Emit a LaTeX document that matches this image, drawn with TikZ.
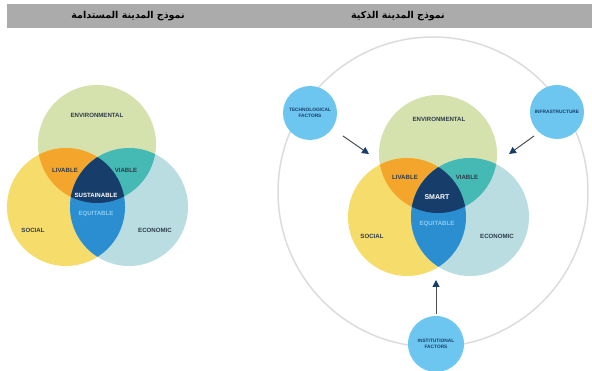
\documentclass[tikz,border=0pt]{standalone}
\usepackage{fontspec}
\usetikzlibrary{arrows.meta}
\TeXXeTstate=1
\newfontfamily\arabicfont[Script=Arabic]{DejaVu Sans}
\newfontfamily\labelfont{Liberation Sans}
\definecolor{envc}{HTML}{D5E2AE}
\definecolor{socc}{HTML}{F6DC6B}
\definecolor{ecoc}{HTML}{BADDE1}
\definecolor{livc}{HTML}{F4A52B}
\definecolor{viac}{HTML}{45B9B3}
\definecolor{equc}{HTML}{2B8ED0}
\definecolor{corec}{HTML}{173E6A}
\definecolor{factc}{HTML}{6DC6F0}
\definecolor{ringc}{HTML}{DCDCDC}
\definecolor{barc}{HTML}{ABABAB}
\definecolor{txtc}{HTML}{2E3B4A}
\definecolor{equtxt}{HTML}{8CCBEF}
\definecolor{arrc}{HTML}{4A4F57}
\begin{document}
\begin{tikzpicture}[x=1pt,y=-1pt,
  vcirc/.style={circle,minimum size=118pt,inner sep=0pt,outer sep=0pt},
  fcirc/.style={circle,minimum size=54pt,inner sep=0pt,fill=factc,align=center,
    font=\labelfont\bfseries\fontsize{4.8}{5.4}\selectfont,text=corec},
  lbl/.style={inner sep=0pt,font=\labelfont\bfseries\fontsize{6.1}{7}\selectfont,text=txtc},
  wlbl/.style={lbl,text=white},
  elbl/.style={lbl,text=equtxt},
  ttl/.style={inner sep=0pt,font=\arabicfont\bfseries\fontsize{9.5}{11}\selectfont,text=black},
  farrow/.style={draw=arrc,line width=1pt,-{Triangle[length=7pt,width=7pt,fill=corec,color=corec]}}
]
\useasboundingbox (0,0) rectangle (592,371);
\fill[white] (0,0) rectangle (592,371);
% header bar
\node[fill=barc,minimum width=585pt,minimum height=24pt,anchor=north west,inner sep=0pt] (bar) at (7,4) {};
\node[ttl] (t1) at (128,16) {\beginR نموذج المدينة المستدامة\endR};
\node[ttl] (t2) at (398,16) {\beginR نموذج المدينة الذكية\endR};

% outer ring
\node[circle,draw=ringc,line width=1.5pt,minimum size=310pt,inner sep=0pt] (ring) at (433,192) {};

% ---------- left Venn ----------
\node[vcirc,fill=envc] (env1) at (97,144) {};
\node[vcirc,fill=socc] (soc1) at (66,207) {};
\node[vcirc,fill=ecoc] (eco1) at (129,207) {};
\begin{scope}
  \clip (env1.center) circle (59pt);
  \fill[livc] (soc1.center) circle (59pt);
  \fill[viac] (eco1.center) circle (59pt);
\end{scope}
\begin{scope}
  \clip (soc1.center) circle (59pt);
  \fill[equc] (eco1.center) circle (59pt);
\end{scope}
\begin{scope}
  \clip (env1.center) circle (59pt);
  \clip (soc1.center) circle (59pt);
  \fill[corec] (eco1.center) circle (59pt);
\end{scope}
\node[lbl] (l1env) at (97,115) {ENVIRONMENTAL};
\node[lbl] (l1liv) at (65,170) {LIVABLE};
\node[lbl] (l1via) at (126,170) {VIABLE};
\node[wlbl] (l1sus) at (96,195) {SUSTAINABLE};
\node[elbl] (l1equ) at (96,214) {EQUITABLE};
\node[lbl] (l1soc) at (33,230) {SOCIAL};
\node[lbl] (l1eco) at (155,230) {ECONOMIC};

% ---------- right Venn ----------
\node[vcirc,fill=envc] (env2) at (438,154) {};
\node[vcirc,fill=socc] (soc2) at (407,217) {};
\node[vcirc,fill=ecoc] (eco2) at (470,217) {};
\begin{scope}
  \clip (env2.center) circle (59pt);
  \fill[livc] (soc2.center) circle (59pt);
  \fill[viac] (eco2.center) circle (59pt);
\end{scope}
\begin{scope}
  \clip (soc2.center) circle (59pt);
  \fill[equc] (eco2.center) circle (59pt);
\end{scope}
\begin{scope}
  \clip (env2.center) circle (59pt);
  \clip (soc2.center) circle (59pt);
  \fill[corec] (eco2.center) circle (59pt);
\end{scope}
\node[lbl] (l2env) at (439,119) {ENVIRONMENTAL};
\node[lbl] (l2liv) at (405,177) {LIVABLE};
\node[lbl] (l2via) at (467,177) {VIABLE};
\node[wlbl,font=\labelfont\bfseries\fontsize{7}{8}\selectfont] (l2sma) at (437,197) {SMART};
\node[elbl] (l2equ) at (437,224) {EQUITABLE};
\node[lbl] (l2soc) at (372,236) {SOCIAL};
\node[lbl] (l2eco) at (497,236) {ECONOMIC};

% ---------- factor circles ----------
\node[fcirc] (tech) at (310,113) {TECHNOLOGICAL\\FACTORS};
\node[fcirc] (infra) at (557,112) {INFRASTRUCTURE};
\node[fcirc,minimum size=56pt] (inst) at (436,344) {INSTITUTIONAL\\FACTORS};

% arrows
\coordinate (a1s) at (343,136);
\coordinate (a1e) at (369,154);
\coordinate (a2s) at (534,136);
\coordinate (a2e) at (509,154);
\coordinate (a3s) at (436,314);
\coordinate (a3e) at (436,280);
\draw[farrow] (a1s) -- (a1e);
\draw[farrow] (a2s) -- (a2e);
\draw[farrow] (a3s) -- (a3e);
\end{tikzpicture}
\end{document}
